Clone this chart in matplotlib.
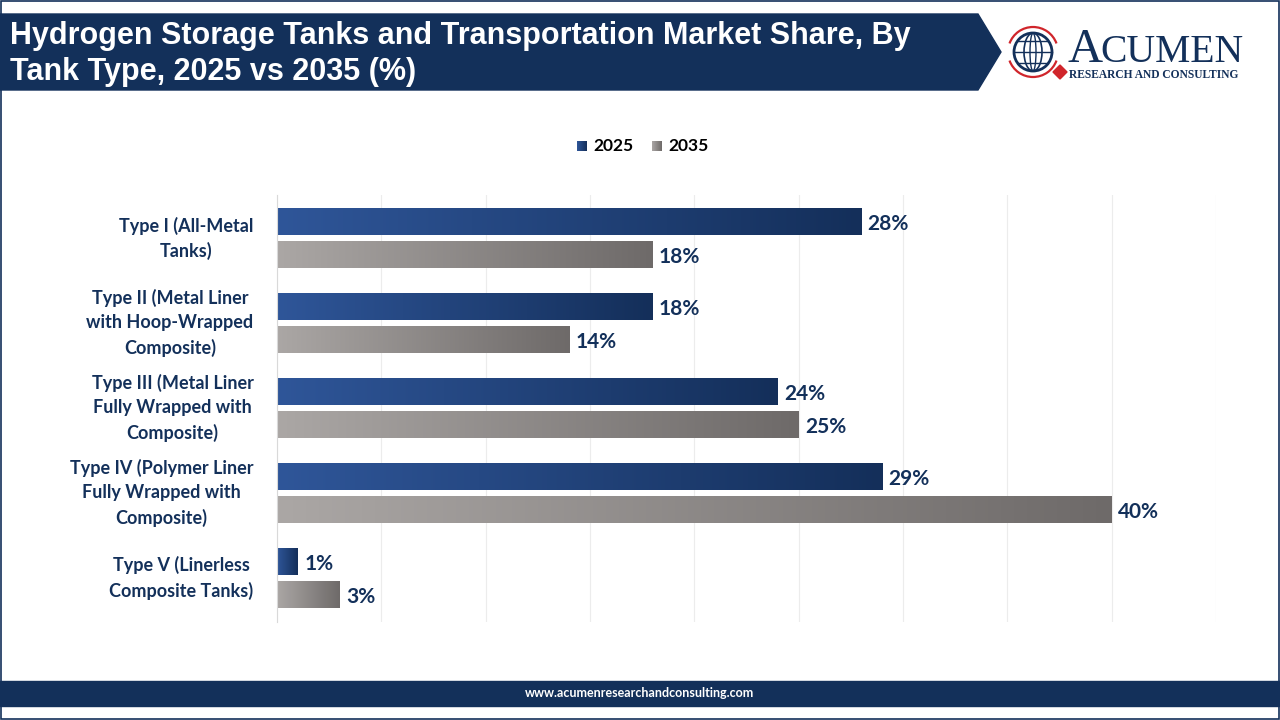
import numpy as np
import matplotlib.pyplot as plt
from matplotlib.patches import Polygon, Rectangle, Circle, Arc, Ellipse

categories = ["Type I (All-Metal\nTanks)",
              "Type II (Metal Liner\nwith Hoop-Wrapped\nComposite)",
              "Type III (Metal Liner\nFully Wrapped with\nComposite)",
              "Type IV (Polymer Liner\nFully Wrapped with\nComposite)",
              "Type V (Linerless\nComposite Tanks)"]
share_2025 = [28, 18, 24, 29, 1]
share_2035 = [18, 14, 25, 40, 3]
series = ["2025", "2035"]

navy = "#13305a"
blue_grad = ("#2f5699", "#142f5a")
grey_grad = ("#aba7a5", "#6e6a69")

W, H = 1280, 720
fig = plt.figure(figsize=(12.8, 7.2), dpi=100)
fig.patch.set_facecolor("white")

# overlay axis in pixel coords for decorations
deco = fig.add_axes([0, 0, 1, 1], zorder=0)
deco.set_xlim(0, W)
deco.set_ylim(H, 0)
deco.axis("off")

# title banner
deco.add_patch(Polygon([(0, 14), (978, 14), (1001, 52), (978, 90), (0, 90)],
                       closed=True, color=navy))
title_font = ["Liberation Sans Narrow", "Liberation Sans", "DejaVu Sans"]
deco.text(10, 36, "Hydrogen Storage Tanks and Transportation Market Share, By",
          color="white", fontsize=22, fontweight="bold", family=title_font,
          va="center", ha="left")
deco.text(10, 72, "Tank Type, 2025 vs 2035 (%)", color="white", fontsize=22,
          fontweight="bold", family=title_font, va="center", ha="left")

# logo
gx, gy = 1033, 52
deco.add_patch(Circle((gx, gy), 19, fill=False, ec=navy, lw=2))
deco.add_patch(Ellipse((gx, gy), 18, 38, fill=False, ec=navy, lw=1.2))
deco.add_patch(Ellipse((gx, gy), 6, 38, fill=False, ec=navy, lw=1.0))
for dy in (-11, 0, 11):
    half = np.sqrt(19 ** 2 - dy ** 2)
    deco.plot([gx - half, gx + half], [gy + dy, gy + dy], color=navy, lw=1.0)
deco.add_patch(Arc((gx, gy), 50, 50, theta1=200, theta2=340, color="#d0252b", lw=1.6))
deco.add_patch(Arc((gx, gy), 50, 50, theta1=20, theta2=160, color="#d0252b", lw=1.6))
deco.add_patch(Polygon([(1053, 72), (1060, 65), (1067, 72), (1060, 79)], color="#d0252b"))
serif = ["Liberation Serif", "DejaVu Serif"]
deco.text(1068, 62, "A", color=navy, fontsize=35, family=serif, va="baseline", ha="left")
deco.text(1100, 62, "CUMEN", color=navy, fontsize=28.5, family=serif, va="baseline", ha="left")
deco.text(1069, 78, "RESEARCH AND CONSULTING", color=navy, fontsize=8.3, family=serif,
          fontweight="bold", va="baseline", ha="left")

# footer
deco.add_patch(Rectangle((0, 681), W, 25, color=navy))
deco.text(640, 693, "www.acumenresearchandconsulting.com", color="white", fontsize=9,
          fontweight="bold", family=["Lato", "DejaVu Sans"], va="center", ha="center")

# frame
deco.add_patch(Rectangle((0.5, 0.5), W - 1.5, H - 1.5, fill=False, ec=navy, lw=1.2))

# chart
ax = fig.add_axes([277 / W, 1 - 622 / H, 939 / W, 427 / H], zorder=1)
ax.patch.set_alpha(0)
ax.set_xticks(np.arange(0, 46, 5))
ax.grid(axis="x", color="#ececec", lw=0.8)
ax.set_axisbelow(True)
ax.tick_params(axis="x", length=0, labelbottom=False)
ax.tick_params(axis="y", length=0)
for s in ("top", "right", "bottom"):
    ax.spines[s].set_visible(False)
ax.spines["left"].set_color("#d9d9d9")

y = np.arange(len(categories))
off, bh = 0.194, 0.318
grad = np.linspace(0, 1, 256).reshape(1, -1)


def grad_bar(x0, x1, yc, cols):
    cmap = plt.matplotlib.colors.LinearSegmentedColormap.from_list("g", cols)
    ax.imshow(grad, cmap=cmap, aspect="auto",
              extent=(x0, x1, yc + bh / 2, yc - bh / 2), zorder=2)


val_font = ["Lato", "DejaVu Sans"]
for i in range(len(categories)):
    for vals, sign, cols in ((share_2025, -1, blue_grad), (share_2035, 1, grey_grad)):
        yc = y[i] + sign * off
        grad_bar(0, vals[i], yc, cols)
        ax.text(vals[i] + 0.3, yc + 0.03, f"{vals[i]}%", color=navy, fontsize=15,
                fontweight="bold", family=val_font, va="center", ha="left")
ax.set_xlim(0, 45)
ax.set_ylim(4.52, -0.51)

ax.set_yticks(y)
ax.set_yticklabels(categories, fontsize=13, fontweight="bold", color=navy,
                   family=val_font, ha="right", multialignment="center",
                   linespacing=1.5)
for t in ax.get_yticklabels():
    t.set_va("center")
ax.tick_params(axis="y", pad=17)

# legend
for x0, label, cols in ((577, series[0], blue_grad), (652, series[1], grey_grad)):
    lax = fig.add_axes([x0 / W, 1 - 151 / H, 10 / W, 10 / H], zorder=2)
    lax.imshow(grad, cmap=plt.matplotlib.colors.LinearSegmentedColormap.from_list("l", cols),
               aspect="auto")
    lax.axis("off")
    deco.text(x0 + 16, 146, label, color="black", fontsize=12.5, fontweight="bold",
              family=val_font, va="center", ha="left")

fig.savefig("out.png", dpi=100)
